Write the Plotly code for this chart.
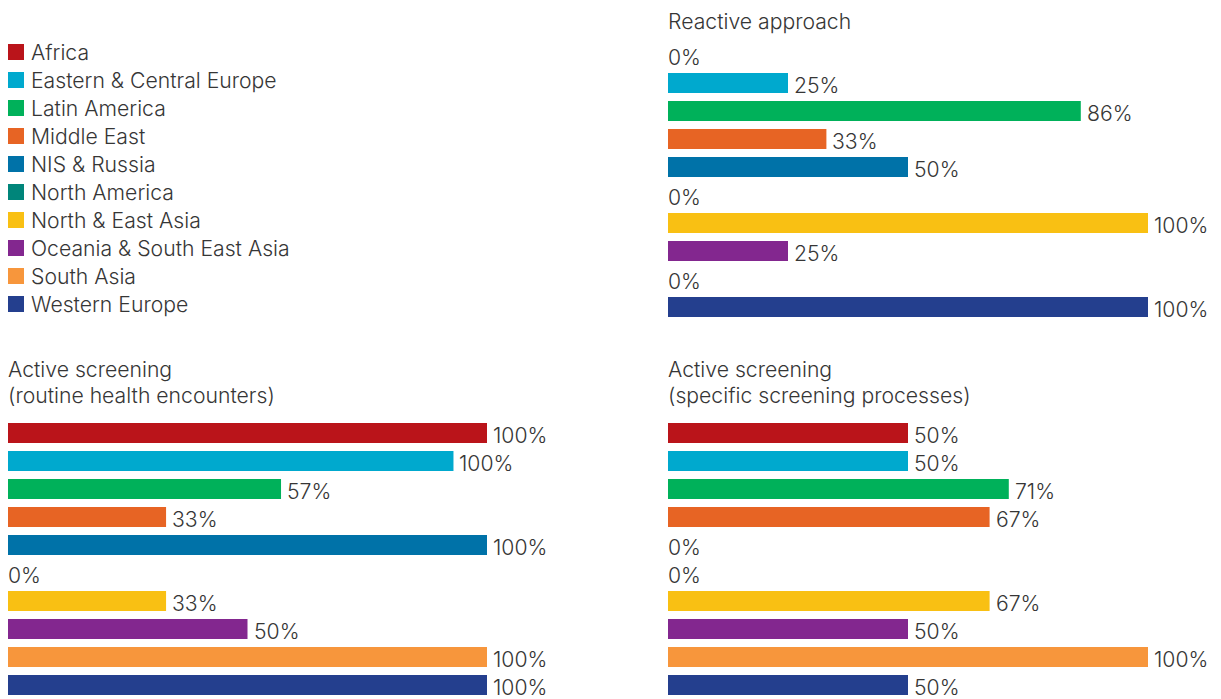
import plotly.graph_objects as go

regions = ["Africa", "Eastern & Central Europe", "Latin America", "Middle East",
           "NIS & Russia", "North America", "North & East Asia",
           "Oceania & South East Asia", "South Asia", "Western Europe"]
colors = ["#BA141A", "#00A9CE", "#00B15A", "#E76424", "#0072A8",
          "#00857A", "#F9C013", "#83278F", "#F7963C", "#243F8E"]

reactive_vals = [0, 25, 86, 33, 50, 0, 100, 25, 0, 100]
reactive_text = ["0%", "25%", "86%", "33%", "50%", "0%", "100%", "25%", "0%", "100%"]

routine_vals = [100, 93, 57, 33, 100, 0, 33, 50, 100, 100]
routine_text = ["100%", "100%", "57%", "33%", "100%", "0%", "33%", "50%", "100%", "100%"]

specific_vals = [50, 50, 71, 67, 0, 0, 67, 50, 100, 50]
specific_text = ["50%", "50%", "71%", "67%", "0%", "0%", "67%", "50%", "100%", "50%"]

titles = [["Reactive approach"],
          ["Active screening", "(routine health encounters)"],
          ["Active screening", "(specific screening processes)"]]

OFF = 8  # page body margin
W, H = 1221 - OFF, 699 - OFF
FONT = dict(family="Inter", size=21.2, color="#363636", weight=300)


def dx(a, b):
    return [(a - OFF) / W, (b - OFF) / W]


def dy(top, bottom):
    return [1 - (bottom - OFF) / H, 1 - (top - OFF) / H]


def px(a):
    return (a - OFF) / W


def py(b):
    return 1 - (b - OFF) / H


fig = go.Figure()
annotations = []

panels = [
    ("x", "y", reactive_vals, reactive_text, (668, 1148), (41, 321), 668, [20.5]),
    ("x2", "y2", routine_vals, routine_text, (8, 487), (419, 699), 8, [369, 395]),
    ("x3", "y3", specific_vals, specific_text, (668, 1148), (419, 699), 668, [369, 395]),
]

layout_axes = {}
for i, (xa, ya, vals, texts, xdom, ydom, tx, tys) in enumerate(panels):
    fig.add_trace(go.Bar(
        x=vals, y=regions, orientation="h", xaxis=xa, yaxis=ya,
        marker=dict(color=colors, line=dict(width=0)),
        showlegend=False, hoverinfo="skip", cliponaxis=False))
    for v, t, r in zip(vals, texts, regions):
        annotations.append(dict(
            x=v, y=r, xref=xa, yref=ya, text=t, showarrow=False,
            xanchor="left", yanchor="middle", xshift=4 if v > 0 else -2,
            yshift=-1.5, font=FONT))
    for line, ty in zip(titles[i], tys):
        annotations.append(dict(
            x=px(tx), y=py(ty), xref="paper", yref="paper", text=line,
            showarrow=False, xanchor="left", yanchor="middle", xshift=-2,
            font=FONT))
    xname = "xaxis" if xa == "x" else "xaxis" + xa[1:]
    yname = "yaxis" if ya == "y" else "yaxis" + ya[1:]
    layout_axes[xname] = dict(domain=dx(*xdom), range=[0, 100], visible=False,
                              anchor=ya, fixedrange=True)
    layout_axes[yname] = dict(domain=dy(*ydom), type="category",
                              categoryorder="array", categoryarray=regions,
                              range=[9.5, -0.5], visible=False, anchor=xa,
                              fixedrange=True)

# legend as squares + labels
fig.add_trace(go.Scatter(
    x=[0.5] * len(regions), y=regions, mode="markers", xaxis="x4", yaxis="y4",
    marker=dict(symbol="square", size=16, color=colors, line=dict(width=0)),
    showlegend=False, hoverinfo="skip", cliponaxis=False))
for r in regions:
    annotations.append(dict(
        x=px(31), y=r, xref="paper", yref="y4", text=r, showarrow=False,
        xanchor="left", yanchor="middle", xshift=-2, yshift=0, font=FONT))
layout_axes["xaxis4"] = dict(domain=dx(8, 24), range=[0, 1], visible=False,
                             anchor="y4", fixedrange=True)
layout_axes["yaxis4"] = dict(domain=dy(38, 318), type="category",
                             categoryorder="array", categoryarray=regions,
                             range=[9.5, -0.5], visible=False, anchor="x4",
                             fixedrange=True)

fig.update_layout(
    width=W, height=H, autosize=False,
    margin=dict(l=0, r=0, t=0, b=0),
    paper_bgcolor="white", plot_bgcolor="white",
    bargap=8 / 28, annotations=annotations, font=FONT,
    **layout_axes)

fig.write_html("out.html", config={"displayModeBar": False})
